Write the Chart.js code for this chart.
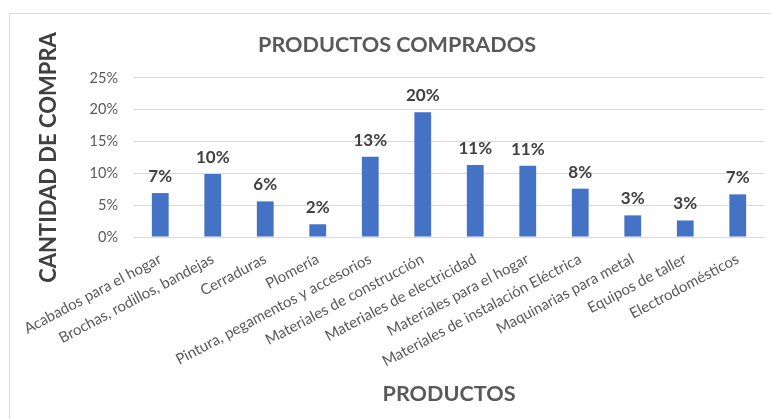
<!DOCTYPE html>
<html>
<head>
<meta charset="utf-8">
<script src="https://cdn.jsdelivr.net/npm/chart.js@4.4.1/dist/chart.umd.min.js"></script>
<style>
  html, body { margin: 0; padding: 0; background: #ffffff; }
  #wrap { position: relative; width: 771px; height: 419px; overflow: hidden; }
  #frame { position: absolute; left: 9px; top: 13px; width: 800px; height: 450px;
           border-left: 1px solid #d9d9d9; border-top: 1px solid #d9d9d9; z-index: 0; }
  #c { position: absolute; left: 0; top: 0; z-index: 1; }
</style>
</head>
<body>
<div id="wrap">
  <div id="frame"></div>
  <canvas id="c" width="771" height="419"></canvas>
</div>
<script>
const categories = [
  "Acabados para el hogar",
  "Brochas, rodillos, bandejas",
  "Cerraduras",
  "Plomería",
  "Pintura, pegamentos y accesorios",
  "Materiales de construcción",
  "Materiales de electricidad",
  "Materiales para el hogar",
  "Materiales de instalación Eléctrica",
  "Maquinarias para metal",
  "Equipos de taller",
  "Electrodomésticos"
];
const purchaseShare = [6.9, 9.9, 5.6, 2.0, 12.6, 19.6, 11.3, 11.2, 7.6, 3.4, 2.6, 6.7];
const chartTitle = "PRODUCTOS COMPRADOS";
const xTitle = "PRODUCTOS";
const yTitle = "CANTIDAD DE COMPRA";

const barLabels = {
  id: 'barLabels',
  afterDatasetsDraw(chart) {
    const ctx = chart.ctx;
    const meta = chart.getDatasetMeta(0);
    ctx.save();
    ctx.font = 'bold 17px Lato';
    ctx.fillStyle = '#404040';
    ctx.textAlign = 'center';
    ctx.textBaseline = 'alphabetic';
    meta.data.forEach((bar, i) => {
      const v = chart.data.datasets[0].data[i];
      ctx.fillText(Math.round(v) + '%', bar.x, bar.y - 11);
    });
    ctx.restore();
  }
};

new Chart(document.getElementById('c'), {
  type: 'bar',
  data: {
    labels: categories,
    datasets: [{
      data: purchaseShare,
      backgroundColor: '#4472C4',
      borderWidth: 0,
      barPercentage: 0.32,
      categoryPercentage: 1.0
    }]
  },
  options: {
    responsive: false,
    animation: false,
    layout: { padding: { left: 30, right: 7, top: 0, bottom: 0 } },
    plugins: {
      legend: { display: false },
      tooltip: { enabled: false },
      title: {
        display: true,
        text: chartTitle,
        color: '#595959',
        font: { family: 'Lato', size: 21.6, weight: 'bold' },
        padding: { top: 32, bottom: 20 }
      }
    },
    scales: {
      x: {
        grid: { display: false, drawTicks: false },
        border: { display: true, color: '#d9d9d9', width: 1 },
        ticks: {
          color: '#595959',
          font: { family: 'Lato', size: 15 },
          minRotation: 28,
          maxRotation: 28,
          autoSkip: false,
          padding: 13
        },
        title: {
          display: true,
          text: xTitle,
          color: '#595959',
          font: { family: 'Lato', size: 21.6, weight: 'bold' },
          padding: { top: 4, bottom: 12 }
        },
        afterFit(scale) { scale.height = 182; }
      },
      y: {
        min: 0,
        max: 25,
        grid: { color: '#d9d9d9', lineWidth: 1, drawTicks: false },
        border: { display: false },
        ticks: {
          stepSize: 5,
          color: '#595959',
          font: { family: 'Lato', size: 14.5 },
          padding: 16,
          callback: v => v + '%'
        },
        title: {
          display: true,
          text: yTitle,
          color: '#404040',
          font: { family: 'Lato', size: 22, weight: 'bold' },
          padding: { top: 6, bottom: 4 }
        },
        afterFit(scale) { scale.width = 104; }
      }
    }
  },
  plugins: [barLabels]
});
</script>
</body>
</html>
